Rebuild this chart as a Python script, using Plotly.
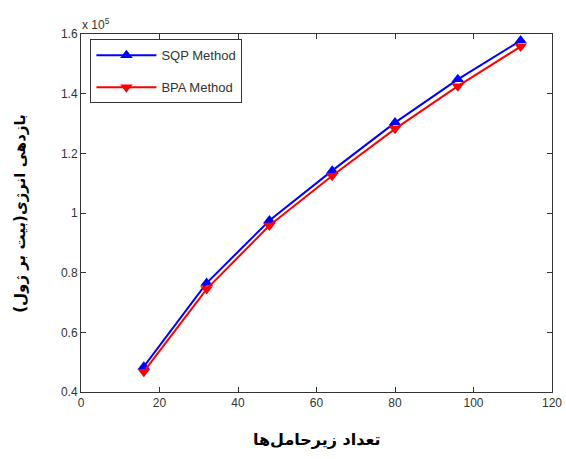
import plotly.graph_objects as go

subcarriers = [16, 32, 48, 64, 80, 96, 112]
sqp = [0.485e5, 0.765e5, 0.975e5, 1.142e5, 1.303e5, 1.448e5, 1.578e5]
bpa = [0.468e5, 0.745e5, 0.958e5, 1.125e5, 1.282e5, 1.425e5, 1.558e5]
ytick_vals = [0.4e5, 0.6e5, 0.8e5, 1.0e5, 1.2e5, 1.4e5, 1.6e5]
ytick_text = ["0.4", "0.6", "0.8", "1", "1.2", "1.4", "1.6"]
xtick_vals = [0, 20, 40, 60, 80, 100, 120]

fig = go.Figure()
fig.add_trace(go.Scatter(x=subcarriers, y=sqp, mode="lines+markers", name="SQP Method",
                         legendgroup="a",
                         line=dict(color="#0000ff", width=2),
                         marker=dict(symbol="triangle-up", size=11, color="#0000ff")))
fig.add_trace(go.Scatter(x=subcarriers, y=bpa, mode="lines+markers", name="BPA Method",
                         legendgroup="b",
                         line=dict(color="#ff0000", width=2),
                         marker=dict(symbol="triangle-down", size=11, color="#ff0000")))

axis_common = dict(showline=True, mirror="ticks", linecolor="#333333", linewidth=1,
                   ticks="inside", ticklen=5, tickcolor="#333333", showgrid=False, zeroline=False,
                   automargin=False,
                   tickfont=dict(family="Liberation Sans, Arial", size=12, color="#333333"))

fig.update_layout(
    width=566, height=459,
    margin=dict(l=81, r=14, t=34, b=67),
    paper_bgcolor="white", plot_bgcolor="white",
    xaxis=dict(range=[0, 120], tickvals=xtick_vals, **axis_common),
    yaxis=dict(range=[0.4e5, 1.6e5], tickvals=ytick_vals, ticktext=ytick_text, **axis_common),
    legend=dict(x=0.02, y=0.985, xanchor="left", yanchor="top",
                bordercolor="#333333", borderwidth=1, bgcolor="white",
                font=dict(family="Liberation Sans, Arial", size=13, color="#333333"),
                itemwidth=60, tracegroupgap=12),
    showlegend=True,
)

fig.add_annotation(text="x 10<sup>5</sup>", xref="paper", yref="paper", x=-0.002, y=1.0,
                   xanchor="left", yanchor="bottom", showarrow=False,
                   font=dict(family="Liberation Sans, Arial", size=12, color="#333333"))
fig.add_annotation(text="<b>تعداد زیرحامل‌ها</b>", xref="paper", yref="paper", x=0.5, y=-0.1,
                   xanchor="center", yanchor="top", showarrow=False,
                   font=dict(family="DejaVu Sans", size=16, color="black"))
fig.add_annotation(text="<b>بازدهی انرژی(بیت بر ژول)</b>", xref="paper", yref="paper", x=-0.13, y=0.5,
                   xanchor="center", yanchor="middle", showarrow=False, textangle=-90,
                   font=dict(family="DejaVu Sans", size=15, color="black"))

fig.write_html("out.html", config={"displayModeBar": False},
               post_script="document.body.style.margin='0';document.body.style.overflow='hidden';")
